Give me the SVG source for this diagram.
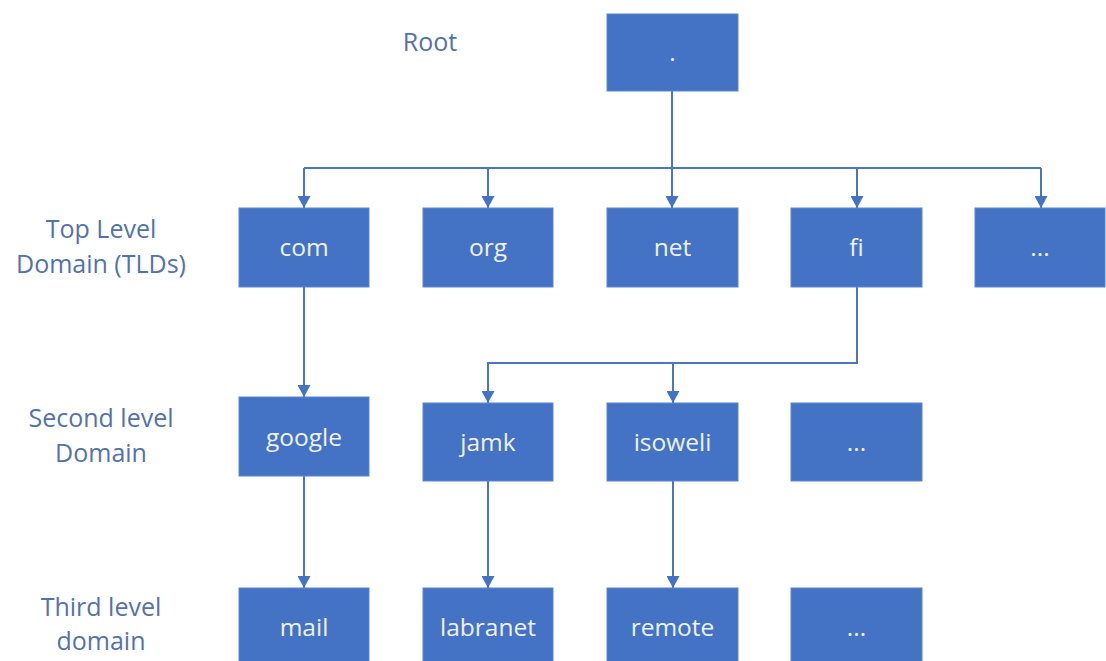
<svg xmlns="http://www.w3.org/2000/svg" width="1106" height="661" viewBox="0 0 1106 661">
<style>
.box{fill:#4472C4;stroke:#5a85cf;stroke-width:1}
.bt{font-family:"Open Sans","Noto Sans",sans-serif;font-size:24.5px;fill:#eef2fa;text-anchor:middle}
.lbl{font-family:"Open Sans","Noto Sans",sans-serif;font-size:25px;fill:#5272ad;text-anchor:middle}
.c{fill:none;stroke:#4a75c0;stroke-width:2}
</style>
<defs>
<marker id="ah" viewBox="0 0 12 13" refX="12" refY="6.5" markerWidth="12" markerHeight="13" markerUnits="userSpaceOnUse" orient="auto">
<path d="M0,0 L12,6.5 L0,13 z" fill="#4472C4"/>
</marker>
</defs>
<rect width="1106" height="661" fill="#ffffff"/>
<g id="labels">
<text class="lbl" x="430" y="51">Root</text>
<text class="lbl" x="101" y="238">Top Level</text>
<text class="lbl" x="101" y="273">Domain (TLDs)</text>
<text class="lbl" x="101" y="427">Second level</text>
<text class="lbl" x="101" y="462">Domain</text>
<text class="lbl" x="101" y="616">Third level</text>
<text class="lbl" x="101" y="650">domain</text>
</g>
<g id="connectors">
<path class="c" d="M672,91 V168"/>
<path class="c" d="M304,168 H1041"/>
<path class="c" d="M304,168 V208" marker-end="url(#ah)"/>
<path class="c" d="M488,168 V208" marker-end="url(#ah)"/>
<path class="c" d="M672,168 V208" marker-end="url(#ah)"/>
<path class="c" d="M857,168 V208" marker-end="url(#ah)"/>
<path class="c" d="M1041,168 V208" marker-end="url(#ah)"/>
<path class="c" d="M304,287 V397" marker-end="url(#ah)"/>
<path class="c" d="M857,287 V363 H488 V403" marker-end="url(#ah)"/>
<path class="c" d="M673,363 V403" marker-end="url(#ah)"/>
<path class="c" d="M304,476 V588" marker-end="url(#ah)"/>
<path class="c" d="M488,481 V588" marker-end="url(#ah)"/>
<path class="c" d="M673,481 V588" marker-end="url(#ah)"/>
</g>
<g id="root"><rect class="box" x="607" y="14" width="131" height="77"/><text class="bt" x="672.5" y="61">.</text></g>
<g id="com"><rect class="box" x="239" y="208" width="130" height="79"/><text class="bt" x="304" y="256">com</text></g>
<g id="org"><rect class="box" x="423" y="208" width="130" height="79"/><text class="bt" x="488" y="256">org</text></g>
<g id="net"><rect class="box" x="607" y="208" width="131" height="79"/><text class="bt" x="672.5" y="256">net</text></g>
<g id="fi"><rect class="box" x="791" y="208" width="131" height="79"/><text class="bt" x="856.5" y="256">fi</text></g>
<g id="tld-more"><rect class="box" x="975" y="208" width="130" height="79"/><text class="bt" x="1040" y="256">...</text></g>
<g id="google"><rect class="box" x="239" y="397" width="130" height="79"/><text class="bt" x="304" y="446">google</text></g>
<g id="jamk"><rect class="box" x="423" y="403" width="130" height="78"/><text class="bt" x="488" y="451">jamk</text></g>
<g id="isoweli"><rect class="box" x="607" y="403" width="131" height="78"/><text class="bt" x="672.5" y="451">isoweli</text></g>
<g id="sld-more"><rect class="box" x="791" y="403" width="131" height="78"/><text class="bt" x="856.5" y="451">...</text></g>
<g id="mail"><rect class="box" x="239" y="588" width="130" height="80"/><text class="bt" x="304" y="636">mail</text></g>
<g id="labranet"><rect class="box" x="423" y="588" width="130" height="80"/><text class="bt" x="488" y="636">labranet</text></g>
<g id="remote"><rect class="box" x="607" y="588" width="131" height="80"/><text class="bt" x="672.5" y="636">remote</text></g>
<g id="tld3-more"><rect class="box" x="791" y="588" width="131" height="80"/><text class="bt" x="856.5" y="636">...</text></g>
</svg>
